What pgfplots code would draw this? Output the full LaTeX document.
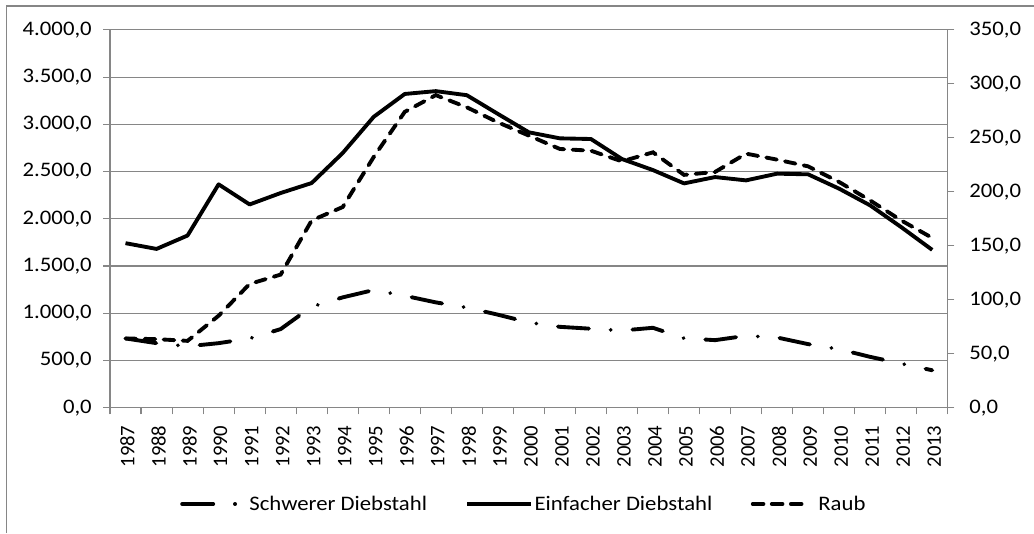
\documentclass[border=0pt]{standalone}
\usepackage{pgfplots}
\pgfplotsset{compat=1.18}
\usepackage{pgfplotstable}
\usepackage{fontspec}
\setmainfont{Carlito}[FakeStretch=1.1]
\newfontfamily\yearfont{Carlito}
\definecolor{axgray}{RGB}{134,134,134}

\pgfplotstableread{
i year schwer einfach raub
0  1987 733  1742 64.1
1  1988 683  1681 63.5
2  1989 650  1823 61.9
3  1990 683  2365 85.2
4  1991 733  2152 114.6
5  1992 832  2273 123.3
6  1993 1069 2379 173.5
7  1994 1168 2697 185.9
8  1995 1246 3080 232.3
9  1996 1185 3322 274.1
10 1997 1115 3352 289.6
11 1998 1060 3309 278.3
12 1999 985  3111 264.4
13 2000 902  2916 252.1
14 2001 856  2852 239.7
15 2002 836  2845 238.1
16 2003 817  2633 228.2
17 2004 846  2516 236.6
18 2005 735  2375 215.7
19 2006 715  2442 218.4
20 2007 761  2407 235.4
21 2008 743  2478 229.8
22 2009 673  2471 223.6
23 2010 619  2319 209.1
24 2011 538  2142 192.0
25 2012 467  1912 173.5
26 2013 396  1671 157.3
}\data

\tikzset{
  schwerstyle/.style={black, line width=2.9pt, line cap=round, dash pattern=on 23.3pt off 16.3pt on 0.1pt off 16.3pt},
  einfachstyle/.style={black, line width=2.9pt, line join=round},
  raubstyle/.style={black, line width=2.9pt, line cap=round, dash pattern=on 8pt off 6.3pt},
}

\pgfplotsset{
  common/.style={
    scale only axis, width=628.3pt, height=283.3pt,
    at={(82.5pt,94pt)}, anchor=south west,
    xmin=-0.5, xmax=26.5,
    axis line style={draw=axgray, line width=0.8pt, -},
    tick style={draw=axgray, line width=0.8pt},
    tick align=outside,
    major tick length=5pt, minor tick length=5pt,
    every tick label/.append style={font=\fontsize{15.5}{18}\selectfont, inner sep=0pt},
    /pgf/number format/.cd, fixed, fixed zerofill, precision=1, 1000 sep={.}, use comma, assume math mode=true,
  },
}

\begin{document}
\begin{tikzpicture}
\useasboundingbox (0,0) rectangle (775.5pt,399.75pt);
\draw[axgray, line width=1.2pt] (5pt,0pt) -- (5pt,395.25pt) -- (776pt,395.25pt);

\begin{axis}[common,
  ymin=0, ymax=4000, ytick={0,500,...,4000},
  axis x line*=bottom, axis y line*=left,
  ymajorgrids, grid style={draw=axgray, line width=0.8pt},
  xtick={0,...,26},
  xticklabels={1987,1988,1989,1990,1991,1992,1993,1994,1995,1996,1997,1998,1999,2000,2001,2002,2003,2004,2005,2006,2007,2008,2009,2010,2011,2012,2013},
  major x tick style={draw=none},
  minor xtick={-0.5,0.5,...,26.5},
  xticklabel style={xshift=1.5pt, rotate=90, anchor=east, font=\yearfont\fontsize{15.5}{18}\selectfont},
  xticklabel shift=8.2pt,
  yticklabel shift=8.5pt,
  legend style={at={(0.4936,-0.255)}, anchor=center, draw=none, fill=none,
    legend columns=3, font=\fontsize{15.5}{18}\selectfont,
    nodes={inner sep=1pt},
    /tikz/every even column/.append style={column sep=27.8pt}},
  legend image code/.code={\draw[#1] (0pt,0pt) -- (48pt,0pt);},
]
\addplot[schwerstyle] table[x=i, y=schwer] {\data};
\addlegendentry{Schwerer Diebstahl}
\addplot[einfachstyle] table[x=i, y=einfach] {\data};
\addlegendentry{Einfacher Diebstahl}
\addlegendimage{legend image code/.code={\draw[raubstyle] (0pt,0pt) -- (39pt,0pt); \path (48pt,0pt);}}
\addlegendentry{Raub}
\end{axis}

\begin{axis}[common,
  ymin=0, ymax=350, ytick={0,50,...,350},
  axis x line=none, axis y line*=right,
  yticklabel shift=11pt,
  yticklabel style={anchor=west},
]
\addplot[raubstyle] table[x=i, y=raub] {\data};
\end{axis}
\end{tikzpicture}
\end{document}
